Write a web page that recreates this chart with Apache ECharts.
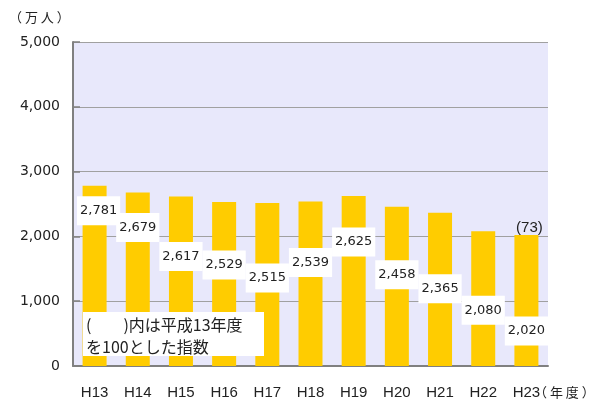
<!DOCTYPE html>
<html>
<head>
<meta charset="utf-8">
<script src="https://cdn.jsdelivr.net/npm/echarts@6/dist/echarts.min.js"></script>
<style>
  html, body { margin: 0; padding: 0; background: #fff; }
  #chart { width: 599px; height: 401px; }
</style>
</head>
<body>
<div id="chart"></div>
<script>
// 年度と人数（万人）
var years = ['H13', 'H14', 'H15', 'H16', 'H17', 'H18', 'H19', 'H20', 'H21', 'H22', 'H23'];
var people = [2781, 2679, 2617, 2529, 2515, 2539, 2625, 2458, 2365, 2080, 2020];
var noteYear = 'H23';
var noteIndex = 73;

// ラベルの縦ずらし（棒の上端からの距離, px）
var labelShiftY = [26, 36, 61, 64, 76, 62, 47, 69, 77, 80, 97];

var myChart = echarts.init(document.getElementById('chart'));

var fmt = function (v) { return Number(v).toLocaleString('en-US'); };

var option = {
  animation: false,
  textStyle: { fontFamily: 'Liberation Sans, Arial, sans-serif' },
  grid: {
    left: 73, right: 51, top: 42, bottom: 35,
    containLabel: false,
    outerBoundsMode: 'none',
    show: true,
    backgroundColor: '#E8E8FB',
    borderWidth: 0
  },
  xAxis: {
    type: 'category',
    data: years,
    axisLine: { lineStyle: { color: '#808080', width: 2 } },
    axisTick: { inside: true, length: 6, lineStyle: { color: '#808080', width: 1.5 } },
    axisLabel: { color: '#222', fontSize: 15, margin: 19 }
  },
  yAxis: {
    type: 'value',
    min: 0,
    max: 5000,
    interval: 1000,
    axisLine: { show: true, lineStyle: { color: '#808080', width: 2 } },
    axisTick: { show: true, inside: true, length: 7, lineStyle: { color: '#808080', width: 1.5 } },
    splitLine: { lineStyle: { color: '#A0A0A0', width: 1 } },
    axisLabel: { color: '#222', fontSize: 14, margin: 13, fontFamily: 'DejaVu Sans', formatter: fmt }
  },
  series: [{
    type: 'bar',
    barWidth: 24,
    itemStyle: { color: '#FFCC00' },
    data: people.map(function (v, i) {
      return {
        value: v,
        label: { offset: [i === 0 ? 4 : 0, labelShiftY[i] - 15.5] }
      };
    }),
    label: {
      show: true,
      position: 'insideTop',
      distance: 0,
      formatter: function (p) { return fmt(p.value); },
      color: '#222',
      fontSize: 13,
      fontFamily: 'DejaVu Sans',
      backgroundColor: '#fff',
      padding: [8, 3]
    },
    markPoint: {
      symbol: 'circle',
      symbolSize: 0,
      data: [{ coord: [noteYear, people[years.indexOf(noteYear)]] }],
      label: {
        show: true,
        position: 'top',
        distance: 0,
        offset: [3, 0],
        formatter: '(' + noteIndex + ')',
        color: '#222',
        fontSize: 15
      }
    }
  }],
  graphic: [
    {
      type: 'text', left: 9, top: 11,
      style: { text: '（ 万 人 ）', fontSize: 13, fill: '#222', fontFamily: 'Noto Sans CJK JP' }
    },
    {
      type: 'text', left: 534, top: 386,
      style: { text: '（ 年 度 ）', fontSize: 13, fill: '#222', fontFamily: 'Noto Sans CJK JP' }
    },
    {
      type: 'rect', shape: { x: 83, y: 312, width: 181, height: 44 },
      style: { fill: '#fff' }, z: 100
    },
    {
      type: 'text', x: 86, y: 314, z: 101,
      style: {
        text: '(　　)内は平成13年度\nを100とした指数',
        fontSize: 16, lineHeight: 22, fill: '#222',
        fontFamily: 'Noto Sans CJK JP'
      }
    }
  ]
};

myChart.setOption(option);
</script>
</body>
</html>
